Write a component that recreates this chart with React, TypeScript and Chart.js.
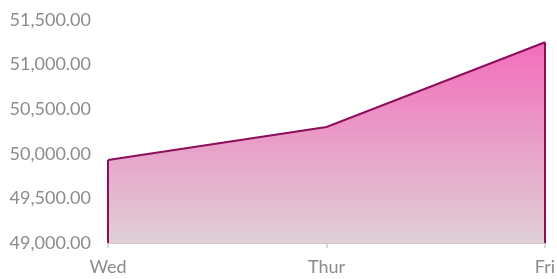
import React, { useEffect, useRef } from "react";
import { Chart, registerables } from "chart.js";

Chart.register(...registerables);

const categories = ["Wed", "Thur", "Fri"];
const values = [49930, 50300, 51250];
const yMin = 49000;
const yMax = 51500;
const yStep = 500;

const edgePlugin = {
  id: "edgeLines",
  afterDatasetsDraw(chart: any) {
    const meta = chart.getDatasetMeta(0);
    const pts = meta.data;
    if (!pts || pts.length === 0) return;
    const ctx = chart.ctx;
    const bottom = chart.scales.y.getPixelForValue(yMin);
    ctx.save();
    ctx.strokeStyle = "#8c0f5c";
    ctx.lineWidth = 2;
    [pts[0], pts[pts.length - 1]].forEach((p: any) => {
      ctx.beginPath();
      ctx.moveTo(p.x, p.y);
      ctx.lineTo(p.x, bottom);
      ctx.stroke();
    });
    ctx.restore();
  },
};

const tickFont = { family: "Lato", size: 18, weight: 400 as any };

export default function App() {
  const ref = useRef<HTMLCanvasElement>(null);
  useEffect(() => {
    const canvas = ref.current!;
    const chart = new Chart(canvas, {
      type: "line",
      data: {
        labels: categories,
        datasets: [
          {
            data: values,
            borderColor: "#8c0f5c",
            borderWidth: 2,
            pointRadius: 0,
            tension: 0,
            fill: "start",
            backgroundColor: (c: any) => {
              const area = c.chart.chartArea;
              if (!area) return "#e8a8c8";
              const g = c.chart.ctx.createLinearGradient(0, area.top, 0, area.bottom);
              g.addColorStop(0, "#f562b8");
              g.addColorStop(1, "#dfd0d6");
              return g;
            },
          },
        ],
      },
      options: {
        animation: false,
        responsive: false,
        maintainAspectRatio: false,
        layout: { padding: { top: 20, right: 12, left: 0, bottom: 0 } },
        plugins: { legend: { display: false }, tooltip: { enabled: false } },
        scales: {
          x: {
            offset: false,
            grid: {
              display: true,
              drawOnChartArea: false,
              drawTicks: true,
              tickLength: 5,
              color: "#d8d8d8",
              lineWidth: 2,
            },
            border: { display: true, color: "#d0c8cc", width: 2 },
            afterFit: (s: any) => {
              s.height = 36;
              s.paddingLeft = 0;
              s.paddingRight = 0;
            },
            ticks: {
              color: "#8c8c8c",
              font: tickFont,
              padding: 8,
              maxRotation: 0,
            },
          },
          y: {
            min: yMin,
            max: yMax,
            grid: { display: false, drawTicks: false },
            border: { display: false },
            afterFit: (s: any) => {
              s.width = 108;
              s.paddingTop = 0;
              s.paddingBottom = 0;
            },
            ticks: {
              stepSize: yStep,
              color: "#8c8c8c",
              font: tickFont,
              padding: 17,
              callback: (v: any) =>
                Number(v).toLocaleString("en-US", {
                  minimumFractionDigits: 2,
                  maximumFractionDigits: 2,
                }),
            },
          },
        },
      },
      plugins: [edgePlugin],
    });
    return () => chart.destroy();
  }, []);
  return (
    <div style={{ position: "fixed", left: 0, top: 0, width: 557, height: 279 }}>
      <canvas ref={ref} width={557} height={279} style={{ display: "block" }} />
    </div>
  );
}
